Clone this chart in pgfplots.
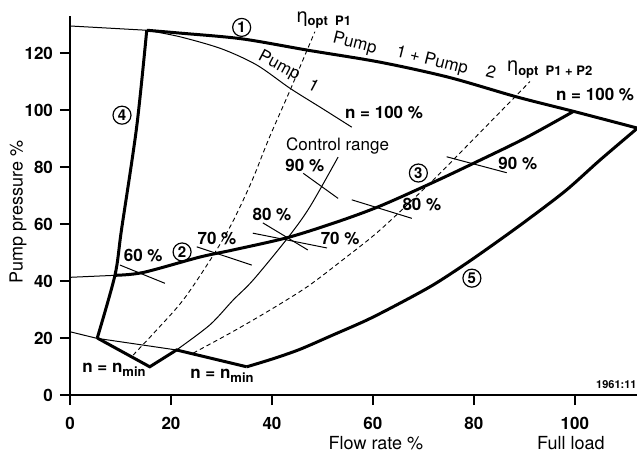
\documentclass[border=0pt]{standalone}
\usepackage{pgfplots}
\pgfplotsset{compat=1.18}
\usepackage{fontspec}
\setmainfont{TeX Gyre Heros}

\newcommand{\lab}{\bfseries\fontsize{8.5}{10}\selectfont}
\newcommand{\sub}[1]{\raisebox{-1.6pt}{\bfseries\fontsize{6.5}{7}\selectfont #1}}
\tikzset{num/.style={circle, draw, line width=0.6pt, inner sep=0pt, minimum size=9pt,
                font=\bfseries\fontsize{7.5}{8}\selectfont}}

\begin{document}
\begin{tikzpicture}
\begin{axis}[
    scale only axis,
    width=283.5pt, height=189.5pt,
    xmin=0, xmax=112.3, ymin=0, ymax=133,
    axis x line*=bottom, axis y line*=left,
    axis line style={line width=1pt},
    xtick={0,20,...,100}, ytick={0,20,...,120},
    tick align=outside, major tick length=5pt,
    tick style={line width=0.8pt, black},
    tick label style={font=\lab, /pgf/number format/assume math mode=true},
    xticklabel style={yshift=-2.5pt},
    clip=false,
    thick line/.style={black, line width=1.5pt, smooth, tension=0.5},
    thin line/.style={black, line width=0.5pt},
    eta line/.style={black, line width=0.45pt, dash pattern=on 2.2pt off 1.6pt, smooth},
]
\coordinate (O) at (axis cs:0,0);

% 1: pump 1 + pump 2, n = 100 %
\addplot[thick line] coordinates {
    (15.2,128) (21.8,127) (34,125) (47.1,121) (61.4,116.8) (75,111.5)
    (88.5,104.6) (99.6,99.6) (112.3,93.7)
};
% pump 1 alone, n = 100 %
\addplot[thin line, smooth] coordinates {
    (15.2,128) (21.8,125.7) (30,121.5) (37,115.8) (43.6,107.6) (50,100.5) (55.8,94)
};
\addplot[thin line] coordinates {(0,129.5) (15.2,128)};
% 4
\addplot[thick line] coordinates {
    (15.2,128) (13.2,94) (10.2,58) (8.9,42) (5.4,20)
};
% 2 / 3
\addplot[thick line] coordinates {
    (8.9,42) (14.5,43) (25.7,48.4) (32.3,50.9) (43.2,55.3) (53,60.8)
    (61.4,66.3) (71.9,74.6) (80.5,81.8) (90,90) (99.6,99.4)
};
\addplot[thin line] coordinates {(0,41.3) (8.9,42)};
% 5
\addplot[thick line] coordinates {
    (112.3,93.5) (105,82.5) (98.3,71.9) (91,62) (85.1,54.4) (78.5,46.2) (71.9,38.6)
    (65,31.9) (58.8,26.3) (52,21) (45.5,16) (40,12.6) (35,9.9)
};
% n = n_min
\addplot[black, line width=1.5pt, sharp plot] coordinates {
    (5.4,20) (15.8,9.9) (21.1,15.8) (35,9.9)
};
\addplot[thin line] coordinates {(0,22.2) (5.3,19.9) (21.1,15.8)};
% control range
\addplot[thin line, smooth] coordinates {
    (21.1,15.8) (27.7,24.6) (32.3,33.3) (36.3,40.4) (43.2,55.3) (47.5,66) (53.1,83.5)
};
% eta opt P1
\addplot[eta line] coordinates {
    (12.5,14) (17,22.5) (22.4,33.3) (28,48) (32,60) (36,75) (39.4,90) (43.6,107) (48.5,127.5)
};
% eta opt P1 + P2
\addplot[eta line] coordinates {
    (24.4,14.7) (32,22) (39.6,29.8) (47,38) (54,47.4) (61.4,57.9) (71.9,75.4) (80.6,91) (91.1,110)
};
% speed marks
\addplot[thin line] coordinates {(9.9,45.6) (18.8,39.2)};
\addplot[thin line] coordinates {(25.1,52) (36,45.6)};
\addplot[thin line] coordinates {(38.2,60.4) (47.1,50.9)};
\addplot[thin line] coordinates {(36.2,56.8) (50.9,51.6)};
\addplot[thin line] coordinates {(46.2,77.8) (53.1,69)};
\addplot[thin line] coordinates {(55.8,68.5) (67.7,62)};
\addplot[thin line] coordinates {(74.6,83.6) (86.5,78)};

% labels
\node[num] at (axis cs:34,129) {1};
\node[num] at (axis cs:10.3,98.2) {4};
\node[num] at (axis cs:22.2,50.2) {2};
\node[num] at (axis cs:69,77.9) {3};
\node[num] at (axis cs:79.6,41) {5};
\node[font=\lab] at (axis cs:14.5,48.8) {60 \%};
\node[font=\lab] at (axis cs:29.1,55) {70 \%};
\node[font=\lab] at (axis cs:40,63.2) {80 \%};
\node[font=\lab] at (axis cs:53.5,55) {70 \%};
\node[font=\lab] at (axis cs:46.5,80.7) {90 \%};
\node[font=\lab] at (axis cs:69.7,66.7) {80 \%};
\node[font=\lab] at (axis cs:88.7,81.4) {90 \%};
\node[font=\lab] at (axis cs:104,105.3) {n = 100 \%};
\node[font=\lab] at (axis cs:62.2,99.3) {n = 100 \%};
\node[font=\fontsize{8.5}{10}\selectfont] at (axis cs:53,87.4) {Control range};
\node[font=\fontsize{8.5}{10}\selectfont, rotate=-28, inner sep=0pt] at (axis cs:41.4,115.4) {Pump};
\node[font=\fontsize{8.5}{10}\selectfont, rotate=-28, inner sep=0pt] at (axis cs:48.3,108.6) {1};
\node[font=\fontsize{8.5}{10}\selectfont, rotate=-14, inner sep=0pt] at (axis cs:56.4,123.2) {Pump};
\node[font=\fontsize{8.5}{10}\selectfont, rotate=-14, inner sep=0pt] at (axis cs:71.7,117.2) {1 + Pump};
\node[font=\fontsize{8.5}{10}\selectfont, rotate=-14, inner sep=0pt] at (axis cs:83.4,113.3) {2};
\node[anchor=west, inner sep=0pt] at (axis cs:44.8,131.5) {{\fontsize{10}{12}\selectfont η}\sub{opt~~P1}};
\node[anchor=west, inner sep=0pt] at (axis cs:86.5,114.2) {{\fontsize{10}{12}\selectfont η}\sub{opt~~P1 + P2}};
\node[font=\lab] at (axis cs:8.7,8.8) {n = n\sub{min}};
\node[font=\lab] at (axis cs:30.1,6.7) {n = n\sub{min}};
\node[anchor=east, inner sep=0pt, font=\bfseries\fontsize{5.5}{6}\selectfont] at (axis cs:112.3,3.5) {1961:11};
\node[font=\fontsize{9}{11}\selectfont] at ([yshift=-24pt]axis cs:60.6,0) {Flow rate \%};
\node[font=\fontsize{9}{11}\selectfont] at ([yshift=-24pt]axis cs:99.2,0) {Full load};
\node[font=\fontsize{9}{11}\selectfont, rotate=90] at ([xshift=-26pt]axis cs:0,64.2) {Pump pressure \%};
\end{axis}
\pgfresetboundingbox
\path[use as bounding box] ([shift={(-35pt,-28.5pt)}]O) rectangle ++(318.5pt,226pt);
\end{tikzpicture}
\end{document}
